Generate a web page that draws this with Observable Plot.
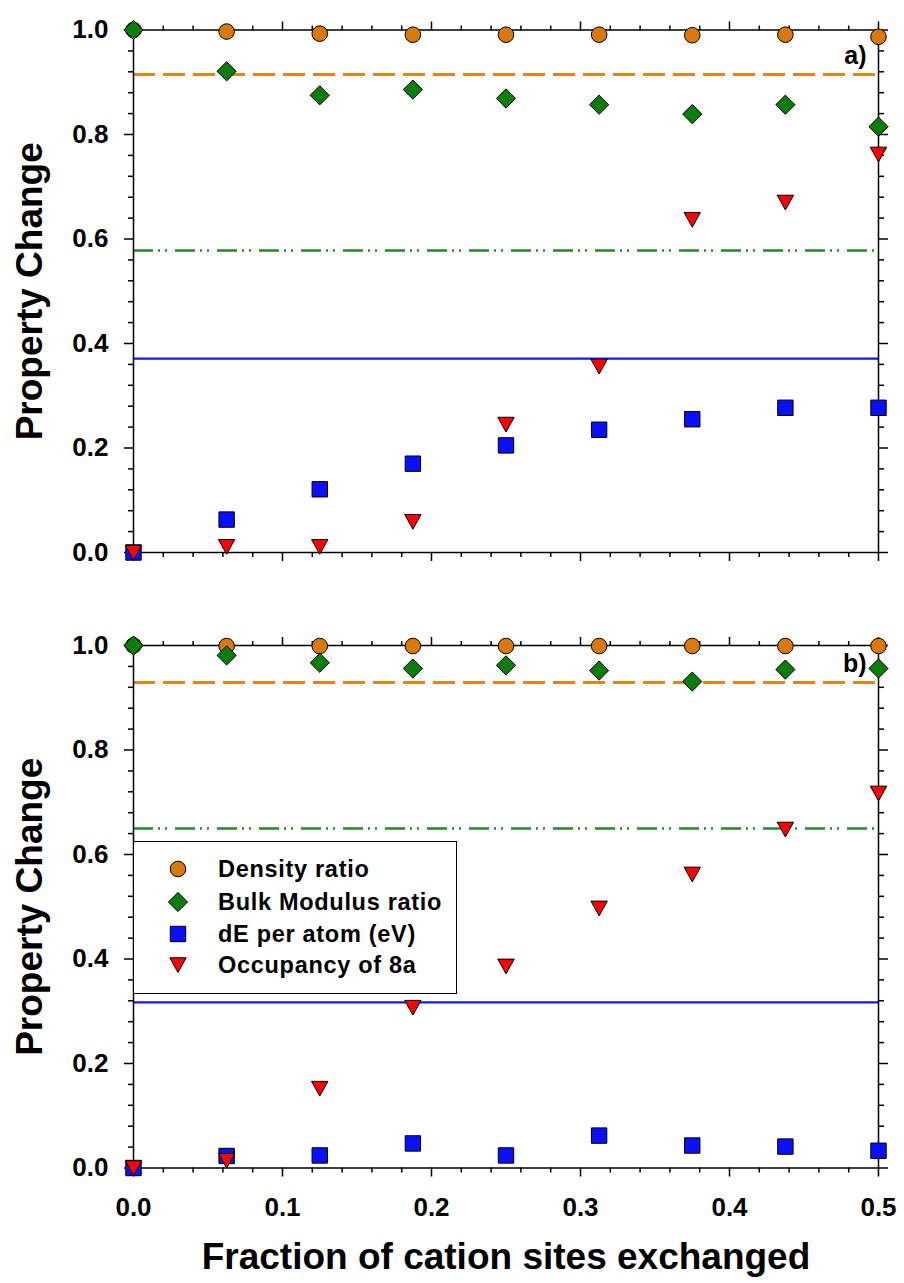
<!DOCTYPE html>
<html>
<head>
<meta charset="utf-8">
<script src="https://cdn.jsdelivr.net/npm/d3@7"></script>
<script src="https://cdn.jsdelivr.net/npm/@observablehq/plot@0.6"></script>
<style>
  html, body { margin: 0; padding: 0; background: #fff; }
  #wrap { position: relative; width: 904px; height: 1283px; font-family: "Liberation Sans", Arial, sans-serif; }
  #wrap svg { display: block; }
  #legend { position: absolute; left: 133px; top: 841px; width: 322px; height: 151px;
            border: 1.5px solid #000; background: #fff; }
  .lrow { position: absolute; left: 0; height: 30px; display: flex; align-items: center; }
  .lrow svg { position: absolute; left: 32px; }
  .lrow span { position: absolute; left: 84px; white-space: nowrap; font-weight: bold; font-size: 23.5px; letter-spacing: 0.7px; color: #000; }
</style>
</head>
<body>
<div id="wrap"></div>
<script>
// ---------- data ----------
const xFrac = [0, 0.0625, 0.125, 0.1875, 0.25, 0.3125, 0.375, 0.4375, 0.5];
const seriesNames = ["Density ratio", "Bulk Modulus ratio", "dE per atom (eV)", "Occupancy of 8a"];

// panel a)
const densityA = [1.0, 0.997, 0.993, 0.991, 0.991, 0.991, 0.990, 0.991, 0.987];
const bulkA    = [1.0, 0.921, 0.875, 0.886, 0.869, 0.857, 0.839, 0.857, 0.815];
const dEA      = [0.0, 0.063, 0.121, 0.170, 0.205, 0.235, 0.255, 0.277, 0.277];
const occA     = [0.0, 0.011, 0.011, 0.059, 0.245, 0.356, 0.637, 0.670, 0.762];
const refLinesA = [0.915, 0.578, 0.371]; // density, bulk, dE reference lines

// panel b)
const densityB = [1.0, 0.999, 0.999, 0.999, 0.999, 0.999, 0.999, 0.999, 0.999];
const bulkB    = [1.0, 0.981, 0.967, 0.956, 0.962, 0.952, 0.931, 0.954, 0.956];
const dEB      = [0.0, 0.023, 0.024, 0.047, 0.024, 0.062, 0.043, 0.041, 0.033];
const occB     = [0.0, 0.014, 0.152, 0.307, 0.386, 0.497, 0.562, 0.648, 0.717];
const refLinesB = [0.929, 0.650, 0.317];

const xMajor = [0, 0.1, 0.2, 0.3, 0.4, 0.5];
const xMinor = [0.02,0.04,0.06,0.08,0.12,0.14,0.16,0.18,0.22,0.24,0.26,0.28,0.32,0.34,0.36,0.38,0.42,0.44,0.46,0.48];
const yMajor = [0, 0.2, 0.4, 0.6, 0.8, 1.0];
const yMinor = [0.04,0.08,0.12,0.16,0.24,0.28,0.32,0.36,0.44,0.48,0.52,0.56,0.64,0.68,0.72,0.76,0.84,0.88,0.92,0.96];

// ---------- styles ----------
const C = {
  circle: "#d9780b", diamond: "#0a7d0a", square: "#0a10ff", tri: "#ff0000",
  orangeLine: "#e0861c", greenLine: "#26862a", blueLine: "#1515f5"
};
const diamondSym = { draw(ctx, size) { const r = Math.sqrt(size / Math.PI);
  ctx.moveTo(0, -r); ctx.lineTo(r, 0); ctx.lineTo(0, r); ctx.lineTo(-r, 0); ctx.closePath(); } };
const squareSym = { draw(ctx, size) { const r = Math.sqrt(size / Math.PI);
  ctx.moveTo(-r, -r); ctx.lineTo(r, -r); ctx.lineTo(r, r); ctx.lineTo(-r, r); ctx.closePath(); } };
const triDownSym = { draw(ctx, size) { const r = Math.sqrt(size / Math.PI);
  ctx.moveTo(-r, -0.88 * r); ctx.lineTo(r, -0.88 * r); ctx.lineTo(0, 0.92 * r); ctx.closePath(); } };

function rows(vals) { return xFrac.map((x, i) => ({x, y: vals[i]})); }

function panel({dens, bulk, dE, occ, refs, tag, height, top, bottom, showX, tagDy}) {
  const none = () => "";
  const ax = {label: null, strokeWidth: 1.5, fontSize: 26, fontWeight: "bold"};
  const marks = [
    Plot.ruleY([refs[0]], {stroke: C.orangeLine, strokeWidth: 3, strokeDasharray: "22,8"}),
    Plot.ruleY([refs[1]], {stroke: C.greenLine, strokeWidth: 2.5, strokeDasharray: "20,5,2,5,2,8"}),
    Plot.ruleY([refs[2]], {stroke: C.blueLine, strokeWidth: 2.2}),
    Plot.frame({stroke: "#000", strokeWidth: 1.5}),
    Plot.axisX({...ax, anchor: "bottom", ticks: xMinor, tickSize: 5, tickFormat: none}),
    Plot.axisX({...ax, anchor: "bottom", ticks: xMajor, tickSize: 9, tickPadding: 21,
                tickFormat: showX ? d3.format(".1f") : none}),
    Plot.axisX({...ax, anchor: "top", ticks: xMinor, tickSize: 5, tickFormat: none}),
    Plot.axisX({...ax, anchor: "top", ticks: xMajor, tickSize: 9, tickFormat: none}),
    Plot.axisY({...ax, anchor: "left", ticks: yMinor, tickSize: 5, tickFormat: none}),
    Plot.axisY({...ax, anchor: "left", ticks: yMajor, tickSize: 9, tickPadding: 16, tickFormat: d3.format(".1f")}),
    Plot.axisY({...ax, anchor: "right", ticks: yMinor, tickSize: 5, tickFormat: none}),
    Plot.axisY({...ax, anchor: "right", ticks: yMajor, tickSize: 9, tickFormat: none}),
    Plot.text(["Property Change"], {frameAnchor: "left", textAnchor: "middle", lineAnchor: "middle",
      rotate: -90, dx: -103, fontSize: 37, fontWeight: "bold"}),
    Plot.text([tag], {frameAnchor: "top-right", textAnchor: "end", lineAnchor: "middle", dx: -12, dy: tagDy, fontSize: 25, fontWeight: "bold"}),
    Plot.dot(rows(dens), {x: "x", y: "y", symbol: "circle", r: 7.8, fill: C.circle, stroke: "#000", strokeWidth: 1}),
    Plot.dot(rows(bulk), {x: "x", y: "y", symbol: diamondSym, r: 9.6, fill: C.diamond, stroke: "#000", strokeWidth: 1}),
    Plot.dot(rows(dE), {x: "x", y: "y", symbol: squareSym, r: 7.7, fill: C.square, stroke: "#000", strokeWidth: 1}),
    Plot.dot(rows(occ), {x: "x", y: "y", symbol: triDownSym, r: 8.2, fill: C.tri, stroke: "#000", strokeWidth: 1})
  ];
  if (showX) {
    marks.push(Plot.text(["Fraction of cation sites exchanged"], {frameAnchor: "bottom", lineAnchor: "middle",
      dy: 89, fontSize: 37, fontWeight: "bold"}));
  }
  return Plot.plot({
    width: 904, height,
    marginLeft: 133, marginRight: 26, marginTop: top, marginBottom: bottom,
    x: {domain: [0, 0.5], axis: null, label: null},
    y: {domain: [0, 1], axis: null, label: null},
    style: {fontFamily: "'Liberation Sans', Arial, sans-serif", fontWeight: "bold", fontSize: "26px", color: "#000", background: "#fff", overflow: "visible"},
    marks
  });
}

const wrap = document.getElementById("wrap");
wrap.appendChild(panel({dens: densityA, bulk: bulkA, dE: dEA, occ: occA, refs: refLinesA, tag: "a)",
  height: 580, top: 29.5, bottom: 28, showX: false, tagDy: 25.5}));
wrap.appendChild(panel({dens: densityB, bulk: bulkB, dE: dEB, occ: occB, refs: refLinesB, tag: "b)",
  height: 703, top: 65, bottom: 115.5, showX: true, tagDy: 18}));

// ---------- legend (inside panel b) ----------
const legend = document.createElement("div");
legend.id = "legend";
const syms = [
  {sym: d3.symbolCircle, r: 7.8, fill: C.circle},
  {sym: diamondSym, r: 9.6, fill: C.diamond},
  {sym: squareSym, r: 7.7, fill: C.square},
  {sym: triDownSym, r: 8.2, fill: C.tri}
];
const rowCenters = [27, 60, 92, 123];
seriesNames.forEach((name, i) => {
  const row = document.createElement("div");
  row.className = "lrow";
  row.style.top = (rowCenters[i] - 15) + "px";
  const s = syms[i];
  const path = d3.symbol(s.sym, Math.PI * s.r * s.r)();
  row.innerHTML = `<svg width="24" height="30" viewBox="-12 -15 24 30" style="top:0"><path d="${path}" fill="${s.fill}" stroke="#000" stroke-width="1"/></svg><span>${name}</span>`;
  legend.appendChild(row);
});
wrap.appendChild(legend);
</script>
</body>
</html>
